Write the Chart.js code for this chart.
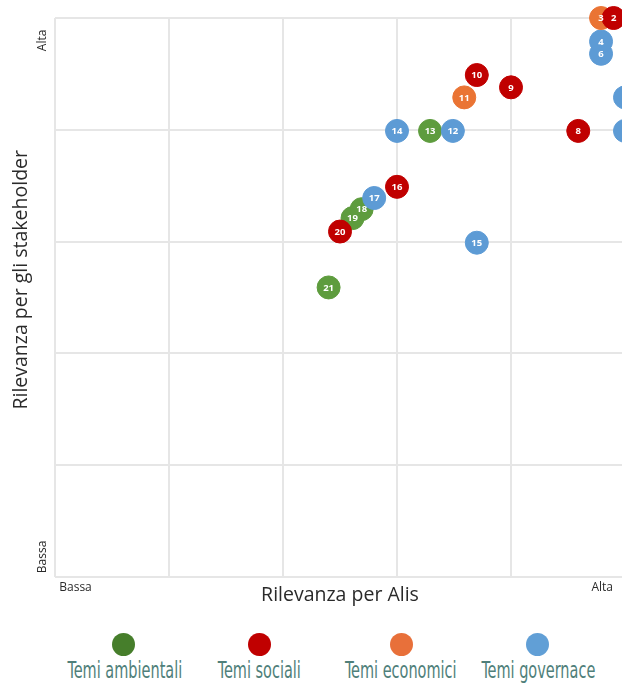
<!DOCTYPE html>
<html>
<head>
<meta charset="utf-8">
<script src="https://cdn.jsdelivr.net/npm/chart.js@4.4.0/dist/chart.umd.min.js"></script>
<style>
  body { margin: 0; background: #fff; overflow: hidden; width: 622px; height: 683px; }
  #wrap { position: absolute; left: 0; top: 0; width: 622px; height: 620px; overflow: hidden; }
  #legend { position: absolute; left: 0; top: 633px; width: 622px; height: 50px; }
  .item { position: absolute; top: 0; width: 160px; margin-left: -80px; text-align: center; }
  .dot { width: 23px; height: 23px; border-radius: 50%; margin: 0 auto; }
  .lab { display: inline-block; margin-top: 1px; font-family: "Liberation Sans Narrow", "DejaVu Sans Condensed", sans-serif;
         font-size: 23px; color: #4f7f7a; white-space: nowrap; transform: scaleX(0.7); }
</style>
</head>
<body>
<div id="wrap"><canvas id="matrix" width="680" height="620"></canvas></div>
<div id="legend"></div>
<script>
// themes (legend) and the materiality topics
const themes = ['Temi ambientali', 'Temi sociali', 'Temi economici', 'Temi governace'];
const topicIds    = ['21', '19', '20', '18', '17', '16', '15', '14', '13', '12', '11', '10', '9', '8', '7', '5', '6', '4', '3', '2'];
const topicTheme  = [0, 0, 1, 0, 3, 1, 3, 3, 0, 3, 2, 1, 1, 1, 3, 3, 3, 3, 2, 1];
const alisScore   = [2.4, 2.61, 2.5, 2.69, 2.8, 3.0, 3.7, 3.0, 3.29, 3.49, 3.59, 3.7, 4.0, 4.59, 5.0, 5.0, 4.79, 4.79, 4.79, 4.9];
const stakeScore  = [2.59, 3.21, 3.09, 3.29, 3.39, 3.49, 2.99, 3.99, 3.99, 3.99, 4.29, 4.49, 4.38, 3.99, 3.99, 4.29, 4.68, 4.79, 5.0, 5.0];
// axis end labels
const endLabels = ['Bassa', 'Alta'];
const endValues = [0.18, 4.8];

const pointColors = ['#5e9c3e', '#c00000', '#ea7434', '#5d9bd5'];
const legendColors = ['#467e2b', '#c00000', '#e8703a', '#619fd6'];
const legendX = [123, 259, 401, 537];

const numberLabels = {
    id: 'numberLabels',
    afterDatasetsDraw(chart) {
        const ctx = chart.ctx;
        const pts = chart.getDatasetMeta(0).data;
        ctx.save();
        ctx.font = 'bold 9.5px "Open Sans", sans-serif';
        ctx.fillStyle = '#fff';
        ctx.textAlign = 'center';
        ctx.textBaseline = 'middle';
        pts.forEach((p, i) => ctx.fillText(topicIds[i], p.x, p.y + 0.5));
        ctx.restore();
    }
};

// "Bassa" / "Alta" at both ends of each axis
const endTicks = {
    id: 'endTicks',
    afterDraw(chart) {
        const { ctx, scales: { x, y } } = chart;
        ctx.save();
        ctx.font = '12px "Open Sans", sans-serif';
        ctx.fillStyle = '#2a2a2a';
        ctx.textAlign = 'center';
        ctx.textBaseline = 'middle';
        endLabels.forEach((t, i) => {
            ctx.fillText(t, x.getPixelForValue(endValues[i]), x.top + 11);
            ctx.save();
            ctx.translate(y.right - 12, y.getPixelForValue(endValues[i]));
            ctx.rotate(-Math.PI / 2);
            ctx.fillText(t, 0, 0);
            ctx.restore();
        });
        ctx.restore();
    }
};

const ctx = document.getElementById('matrix').getContext('2d');
new Chart(ctx, {
    type: 'scatter',
    data: {
        datasets: [{
            data: alisScore.map((v, i) => ({ x: v, y: stakeScore[i] })),
            backgroundColor: topicTheme.map(t => pointColors[t]),
            borderColor: topicTheme.map(t => pointColors[t]),
            borderWidth: 1,
            pointRadius: 11.5,
            pointHoverRadius: 11.5,
            clip: false
        }]
    },
    options: {
        responsive: false,
        animation: false,
        layout: { padding: { top: 18, right: 55, left: 0, bottom: 0 } },
        plugins: { legend: { display: false }, tooltip: { enabled: false } },
        scales: {
            x: {
                type: 'linear', min: 0, max: 5,
                ticks: { stepSize: 1, display: false },
                grid: { color: '#e6e6e6', lineWidth: 2, drawTicks: false },
                border: { display: false },
                title: { display: true, text: 'Rilevanza per Alis', color: '#2a2a2a',
                         font: { size: 19.5, family: 'Open Sans' }, padding: { top: 0, bottom: 13 } },
                afterFit(s) { s.width !== undefined; s.height = 43; }
            },
            y: {
                type: 'linear', min: 0, max: 5,
                ticks: { stepSize: 1, display: false },
                grid: { color: '#e6e6e6', lineWidth: 2, drawTicks: false },
                border: { display: false },
                // leading spaces push the visible title a little above centre, as in the original
                title: { display: true, text: '       Rilevanza per gli stakeholder', color: '#2a2a2a',
                         font: { size: 19.5, family: 'Open Sans' }, padding: { top: 10, bottom: 0 } },
                afterFit(s) { s.width = 55; }
            }
        }
    },
    plugins: [numberLabels, endTicks]
});

// legend: dot above the text
const legend = document.getElementById('legend');
themes.forEach((name, i) => {
    const item = document.createElement('div');
    item.className = 'item';
    item.style.left = legendX[i] + 'px';
    item.innerHTML = '<div class="dot" style="background:' + legendColors[i] + '"></div><span class="lab">' + name + '</span>';
    legend.appendChild(item);
});
</script>
</body>
</html>
